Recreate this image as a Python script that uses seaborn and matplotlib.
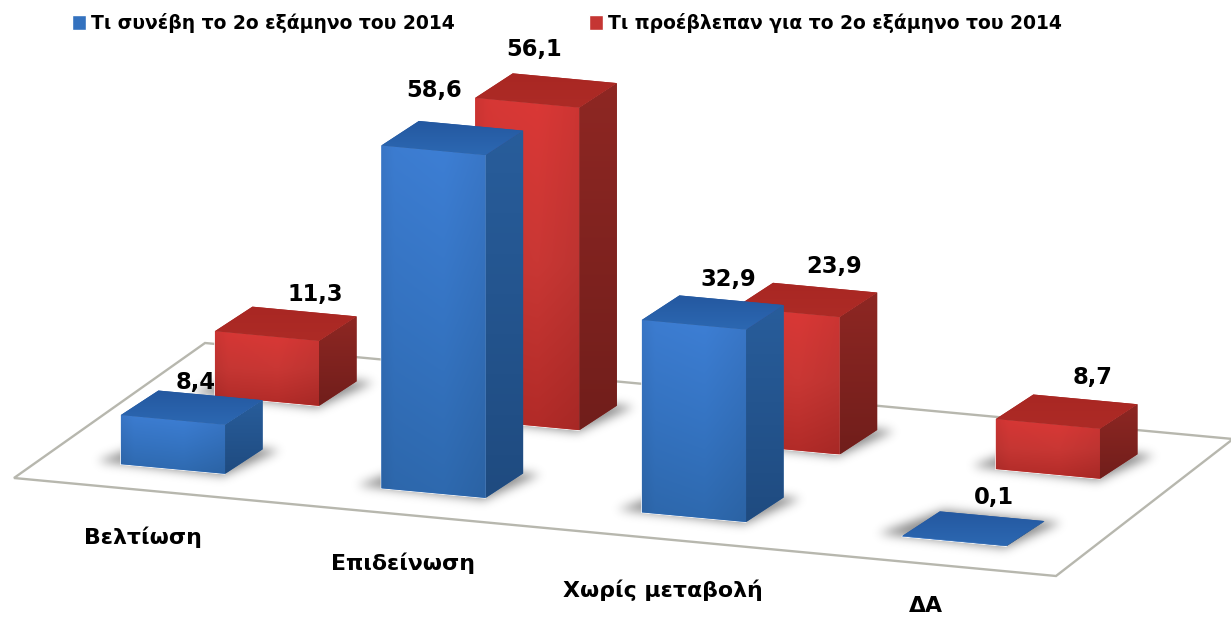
import numpy as np
import matplotlib
matplotlib.use("Agg")
import matplotlib.pyplot as plt
import seaborn as sns
from matplotlib.colors import to_rgb
from matplotlib.path import Path
from matplotlib.patches import Polygon, Patch
from matplotlib.transforms import Affine2D

categories = ["Βελτίωση", "Επιδείνωση", "Χωρίς μεταβολή", "ΔΑ"]
happened = [8.4, 58.6, 32.9, 0.1]
expected = [11.3, 56.1, 23.9, 8.7]
series_names = ["Τι συνέβη το 2ο εξάμηνο του 2014", "Τι προέβλεπαν για το 2ο εξάμηνο του 2014"]

# --- style / layout -------------------------------------------------------
W, H = 1231, 618
sns.set_theme(style="white")
plt.rcParams['font.family'] = ['DejaVu Sans']

# category/value plane of each bar row -> picture pixels (a sheared plane)
T_BLUE = Affine2D.from_values(260.5, 24.1, 0, -5.85, 173, 469)
T_RED = Affine2D.from_values(260.3, 24.3, 0, -5.75, 267, 401)
DEPTH = np.array([37.5, -24.5])
BAR_W = 0.4
FLOOR = [(14, 478), (1056, 576), (1233, 439), (205, 343)]

PAL = {
    "blue": dict(front=["#3c7cd0", "#3472bf", "#2d67ab"], side=["#285d9b", "#1f4b80"], top=["#2458a0", "#2c68b2"]),
    "red": dict(front=["#d63735", "#c53633", "#ae2a27"], side=["#8e2723", "#711e1b"], top=["#a92723", "#ad2b26"]),
}
BLUE_OFF = [(23, 37), (1, 60), (34, 45), (39, 43)]
RED_OFF = [(48, 42), (7, 53), (47, 46), (45, 46)]
LABEL_POS = [(143, 537), (403, 563), (663, 590), (926, 606)]


def fmt(v):
    return f"{v:.1f}".replace(".", ",")


fig = plt.figure(figsize=(W / 100, H / 100), dpi=100, facecolor="white")
ax = fig.add_axes([0, 0, 1, 1])

# front faces of the bars come from seaborn; their plane is sheared afterwards
n0 = len(ax.patches)
sns.barplot(x=categories, y=expected, color=PAL["red"]["front"][1], saturation=1, width=BAR_W, ax=ax)
red_bars = list(ax.patches[n0:])
n1 = len(ax.patches)
sns.barplot(x=categories, y=happened, color=PAL["blue"]["front"][1], saturation=1, width=BAR_W, ax=ax)
blue_bars = list(ax.patches[n1:])
ax.autoscale(False)


def ramp(stops, n=64):
    stops = np.array([to_rgb(c) for c in stops])
    t = np.linspace(0, len(stops) - 1, n)
    return np.stack([np.interp(t, np.arange(len(stops)), stops[:, k]) for k in range(3)], axis=1)


def gradient_face(points, stops, z, vertical=True, sheen=False):
    points = np.asarray(points)
    clip = Polygon(points, closed=True, facecolor=stops[0], edgecolor="none", zorder=z)
    ax.add_patch(clip)
    c = ramp(stops)
    img = np.repeat(c[:, None, :], 64, axis=1) if vertical else np.repeat(c[None, :, :], 64, axis=0)
    if sheen:
        prof = np.interp(np.linspace(0, 1, 64), [0, 0.12, 0.6, 1], [0.95, 1.0, 1.02, 0.96])
        img = np.clip(img * prof[None, :, None], 0, 1)
    x0, y0 = points.min(axis=0)
    x1, y1 = points.max(axis=0)
    im = ax.imshow(img, extent=(x0, x1, y1, y0), aspect="auto", interpolation="bilinear", zorder=z + 0.1)
    im.set_clip_path(clip)


def draw_bar(patch, T, pal, z):
    x, w, v = patch.get_x(), patch.get_width(), patch.get_height()
    bl, br, tr, tl = T.transform([(x, 0), (x + w, 0), (x + w, v), (x, v)])
    patch.set_transform(T + ax.transData)
    patch.set_zorder(z)
    gradient_face([tl, tr, br, bl], pal["front"], z + 1, sheen=True)
    gradient_face([tr, tr + DEPTH, br + DEPTH, br], pal["side"], z + 2)
    gradient_face([tl, tl + DEPTH, tr + DEPTH, tr], pal["top"], z + 3)


# floor outline
ax.add_patch(Polygon(FLOOR, closed=True, facecolor="white", edgecolor="#b7b7ae", linewidth=1.7, zorder=1))

# soft contact shadows
yy, xx = np.mgrid[0:H, 0:W]
grid = np.column_stack([xx.ravel() + 0.5, yy.ravel() + 0.5])
mask = np.zeros(H * W)
for bars, T in [(red_bars, T_RED), (blue_bars, T_BLUE)]:
    for p in bars:
        x, w = p.get_x(), p.get_width()
        bl, br = T.transform([(x, 0), (x + w, 0)])
        foot = [bl + (-24, -3), br + (-2, 2), br + DEPTH + (17, 1), bl + DEPTH + (4, -2)]
        mask = np.maximum(mask, Path(foot).contains_points(grid))
mask = mask.reshape(H, W).astype(float)
sigma = 5.0
fy = np.fft.fftfreq(H)[:, None]
fx = np.fft.rfftfreq(W)[None, :]
blur = np.fft.irfft2(np.fft.rfft2(mask) * np.exp(-2 * (np.pi * sigma) ** 2 * (fx ** 2 + fy ** 2)), s=(H, W))
shadow = np.zeros((H, W, 4))
shadow[..., 3] = np.clip(blur, 0, 1) * 0.45
ax.imshow(shadow, extent=(0, W, H, 0), aspect="auto", interpolation="bilinear", zorder=2)

# bars, back row first
z = 10
for p in red_bars:
    draw_bar(p, T_RED, PAL["red"], z)
    z += 10
for p in blue_bars:
    draw_bar(p, T_BLUE, PAL["blue"], z)
    z += 10

# value labels
for vals, T, offs in [(expected, T_RED, RED_OFF), (happened, T_BLUE, BLUE_OFF)]:
    for i, v in enumerate(vals):
        ax.annotate(fmt(v), xy=(i, v), xycoords=T + ax.transData, xytext=offs[i], textcoords="offset pixels",
                    ha="center", va="center", fontsize=16.3, fontweight="bold", color="black", zorder=5000)

# category labels
for (px, py), c in zip(LABEL_POS, categories):
    ax.text(px, py, c, ha="center", va="center", fontsize=15.8, fontweight="bold", color="black", zorder=5000)

ax.set_xlim(0, W)
ax.set_ylim(H, 0)
ax.set_axis_off()

handles = [Patch(facecolor=PAL["blue"]["front"][1]), Patch(facecolor=PAL["red"]["front"][1])]
fig.legend(handles, series_names, loc="upper left", bbox_to_anchor=(72 / W, 1 - 13 / H), bbox_transform=fig.transFigure,
           ncol=2, frameon=False, borderpad=0, borderaxespad=0, handlelength=0.72, handleheight=0.85, handletextpad=0.27,
           columnspacing=7.2, labelcolor="black", prop=dict(size=13.5, weight="bold"))

fig.savefig("out.png", dpi=100)
